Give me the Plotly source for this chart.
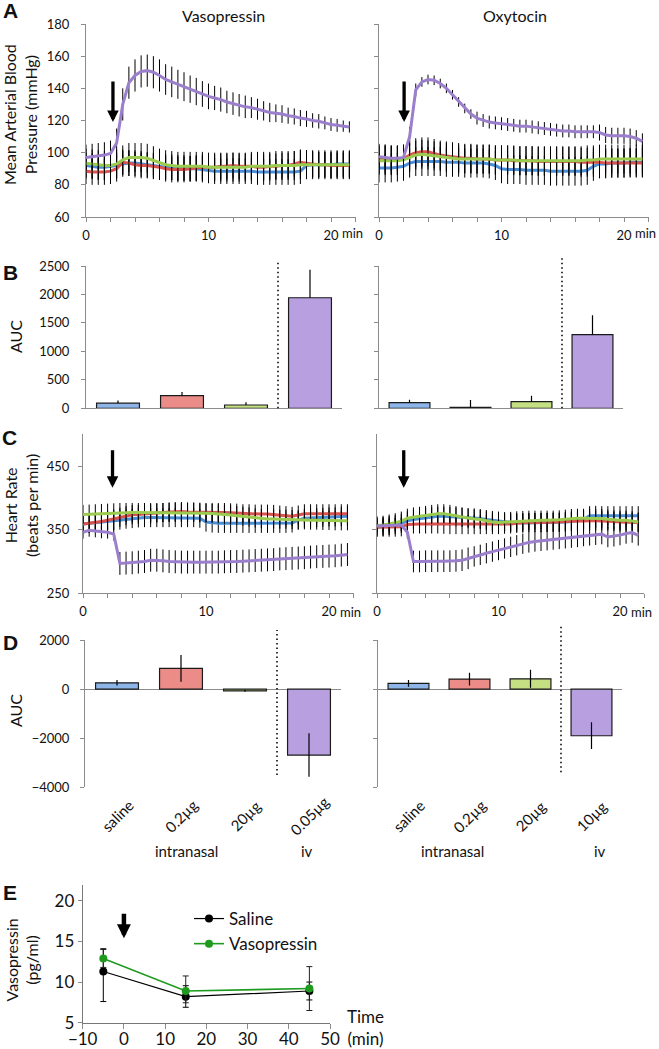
import plotly.graph_objects as go

W, H = 659, 1049

# ---------------- data ----------------
TIME = [0, 0.5, 1, 1.5, 2, 2.5, 3, 3.5, 4, 4.5, 5, 5.5, 6, 6.5, 7, 7.5, 8, 8.5, 9, 9.5,
        10, 10.5, 11, 11.5, 12, 12.5, 13, 13.5, 14, 14.5, 15, 15.5, 16, 16.5, 17, 17.5,
        18, 18.5, 19, 19.5, 20, 20.5, 21, 21.5]

# Panel A, vasopressin: mean arterial pressure (mmHg)
MAP_VP_SAL = [92, 91.5, 91, 91, 91.5, 92, 93, 93.5,
              93.5, 93, 92.5, 92, 91.5, 91, 91, 90.5,
              90.5, 90, 90, 89.5, 89, 88.5, 88.5, 88.5,
              88.5, 88.5, 88.5, 88.5, 88, 88, 88, 88,
              88, 88, 88, 88.5, 92, 92.5, 92.5, 92.5,
              92.5, 93, 93, 93]
MAP_VP_LOW = [88.5, 88, 88, 88, 88.5, 90, 94, 93.5,
              92.5, 92, 92, 91.5, 91, 90, 89.5, 89.5,
              89.5, 90, 90.5, 91, 91, 91, 91.5, 91.5,
              92, 91.5, 91.5, 91.5, 91, 91, 91.5, 91.5,
              92, 92, 93, 94, 93.5, 93, 92.5, 92.5,
              92, 92, 92, 92]
MAP_VP_HIGH = [93.5, 93, 92.5, 92, 92, 93, 95.5, 97,
               97, 97, 96.5, 95, 93.5, 92.5, 92, 91.5,
               91.5, 91.5, 91.5, 91.5, 91, 91, 91, 91,
               91, 91, 91, 91.5, 91.5, 91.5, 91.5, 92,
               92, 92, 92, 92.5, 92.5, 92.5, 92.5, 92.5,
               92.5, 92.5, 92.5, 92.5]
MAP_VP_IV = [97, 97.5, 98, 98.5, 99.5, 106, 130, 143.5,
             148, 150.5, 151, 150, 148, 145.5, 144, 142.5,
             141, 139.5, 138, 136.5, 135, 134, 133, 131.5,
             130.5, 129.5, 128.5, 128, 127, 126, 125, 124.5,
             124, 123, 122.5, 121.5, 121, 120, 119.5, 118.5,
             117.5, 117, 116.5, 116]
MAP_VP_IV_ERR = [8, 8, 8, 8, 8, 9, 10, 10,
                 10, 10, 10, 10, 10, 9.5, 9.5, 9,
                 9, 8.5, 8.5, 8, 8, 7.5, 7.5, 7,
                 7, 7, 7, 6.5, 6.5, 6, 6, 5.5,
                 5.5, 5, 5, 5, 5, 4.5, 4.5, 4,
                 4, 4, 3.5, 3.5]
MAP_VP_SD = [8, 8, 9]          # saline, 0.2 ug, 20 ug

# Panel A, oxytocin
MAP_OT_SAL = [90.5, 90.5, 90.5, 91, 91.5, 93.5, 94.5, 94.5,
              94.5, 94.5, 94.5, 94, 94, 94, 93.5, 93.5,
              93.5, 93.5, 93, 92, 90, 89.5, 89.5, 89.5,
              89, 89, 89, 89, 88.5, 88.5, 88.5, 88.5,
              88.5, 88.5, 89, 91.5, 93, 93, 93.5, 93.5,
              93.5, 94, 94, 94]
MAP_OT_LOW = [96, 96, 95.5, 95.5, 96, 98.5, 100, 100.5,
              100.5, 99.5, 98.5, 98, 97.5, 97, 96.5, 96.5,
              96, 96, 96, 95.5, 95.5, 95.5, 95, 95,
              95, 95, 94.5, 94.5, 94.5, 94.5, 94.5, 94.5,
              94.5, 94, 94, 94, 94, 93.5, 93.5, 93.5,
              93.5, 93.5, 93.5, 93.5]
MAP_OT_HIGH = [95, 95, 95, 95, 95.5, 97, 98.5, 99,
               98.5, 98, 97.5, 97, 96.5, 96, 96, 96,
               96, 96, 96, 95.5, 95.5, 95.5, 95.5, 95,
               95, 95, 95, 95, 95, 95, 95, 95,
               95, 95, 95.5, 95.5, 96, 96, 96, 96,
               96, 96, 96, 96]
MAP_OT_IV = [97.5, 97, 96.5, 96.5, 97, 110, 139, 144,
             145.5, 145, 143, 140, 136, 131.5, 127.5, 124,
             121.5, 120, 119, 118.5, 118, 117.5, 117, 116.5,
             116.5, 116, 115.5, 115, 114.5, 114, 113.5, 113.5,
             113, 113, 113, 113, 112.5, 111, 110.5, 110.5,
             110.5, 110, 109, 107]
MAP_OT_IV_ERR = [8, 8, 8, 8, 8, 6, 4, 3,
                 3, 3, 3, 3, 3, 3, 3, 3,
                 4, 4, 4, 4, 4, 4, 4, 4,
                 4, 4, 4, 4, 4, 4, 4, 4,
                 4, 4, 4, 4, 5, 5, 5, 5,
                 5, 5, 5, 5]
MAP_OT_SD = [9, 9, 9]

# Panel C, vasopressin: heart rate (beats per min)
HR_VP_SAL = [359, 360, 361.5, 362.5, 363.5, 364, 365, 366.5,
             367.5, 368.5, 369, 369, 369, 369, 369, 369,
             369, 369, 369, 368, 362, 360.5, 360, 360,
             360, 360, 360, 360, 360, 360, 360, 360,
             360, 360, 360.5, 365, 368, 368.5, 369, 369.5,
             370, 370, 370.5, 371]
HR_VP_LOW = [359, 360, 361, 363, 365, 367, 369.5, 372,
             373.5, 374, 374.5, 375, 376, 377, 378, 378.5,
             378.5, 378, 378, 377.5, 377, 377, 377, 377,
             376.5, 376, 375, 375, 374.5, 374.5, 374.5, 374,
             373, 372, 371, 373, 375, 375, 375, 375,
             375, 375, 375, 375]
HR_VP_HIGH = [374, 374.5, 375, 375.5, 376, 376.5, 377, 377,
              377, 377, 377, 377, 377, 377, 377, 377,
              377, 377, 377, 376.5, 376, 375.5, 375, 374,
              373, 372, 371, 370, 368.5, 367.5, 367, 367,
              366.5, 366.5, 366, 365.5, 365.5, 365, 365, 364.5,
              364.5, 364, 364, 364]
HR_VP_IV = [346, 349, 348, 346.5, 346, 343, 297, 297.5,
            298, 299, 300, 302, 302, 301, 300, 299.5,
            299, 299, 299, 299, 299, 299, 299, 299.5,
            300, 300, 300.5, 301, 301.5, 302, 302.5, 303,
            304, 304.5, 305, 305.5, 306, 307, 307.5, 308,
            308.5, 309, 310, 311]
HR_VP_IV_ERR = [10, 10, 10, 10, 10, 10, 18, 18,
                18, 18, 18, 18, 18, 18, 18, 18,
                18, 18, 18, 18, 18, 18, 18, 18,
                18, 18, 18, 18, 18, 18, 18, 18,
                18, 18, 18, 18, 18, 18, 18, 18,
                18, 18, 18, 18]
HR_VP_SD = [15, 15, 15]

# Panel C, oxytocin
HR_OT_SAL = [354, 355, 356.5, 358, 360, 364, 366, 367.5,
             369, 370, 371, 371, 370.5, 370, 369.5, 369,
             368.5, 367.5, 366, 364.5, 363.5, 362.5, 361.5, 361,
             360.5, 360.5, 361, 361, 361.5, 361.5, 361.5, 362,
             363, 364, 366, 372, 372.5, 372, 372, 372,
             372, 372, 372, 372]
HR_OT_LOW = [354, 354, 354, 354, 354.5, 358, 359, 359,
             359, 359, 359, 358.5, 358, 358, 358, 358,
             358, 358, 358, 358, 358, 358.5, 359, 360,
             361, 361.5, 361.5, 361.5, 361.5, 362, 362, 363,
             363.5, 364, 364, 364, 364, 364, 363.5, 363,
             362, 361.5, 361.5, 361.5]
HR_OT_HIGH = [356, 357, 359, 361, 363.5, 368, 370, 371,
              372.5, 374, 375, 375, 374, 372, 370, 368,
              367, 366, 364, 362, 361.5, 362, 363, 364,
              364.5, 365, 365, 365, 365, 365, 365.5, 366.5,
              367.5, 368, 368, 368, 368, 367.5, 366.5, 365.5,
              365, 365, 364, 362]
HR_OT_IV = [356, 356.5, 357, 358, 357.5, 346, 300, 300,
            300.5, 300.5, 300.5, 300.5, 300.5, 301, 302, 305,
            308, 310.5, 313, 315.5, 318, 320.5, 323, 325.5,
            328, 330, 331.5, 332.5, 333.5, 334.5, 335.5, 336.5,
            337.5, 338.5, 340, 341, 342, 343, 338.5, 339.5,
            341.5, 344, 345.5, 341]
HR_OT_IV_ERR = [10, 10, 10, 10, 10, 10, 17, 17,
                17, 17, 17, 17, 17, 17, 17, 17,
                16, 16, 16, 16, 16, 16, 16, 16,
                16, 16, 16, 16, 16, 16, 16, 16,
                16, 16, 16, 16, 16, 16, 16, 16,
                16, 16, 16, 16]
HR_OT_SD = [15, 15, 15]

# Panels B and D: AUC bars
CATS_VP = ["saline", "0.2µg", "20µg", "0.05µg"]
CATS_OT = ["saline", "0.2µg", "20µg", "10µg"]
GROUP_LABELS = ["intranasal", "iv"]
AUC_MAP_VP = [90, 222, 58, 1942]
AUC_MAP_VP_ERR = [45, 65, 48, 490]
AUC_MAP_OT = [99, 18, 116, 1296]
AUC_MAP_OT_ERR = [50, 128, 105, 340]
AUC_HR_VP = [257, 843, -69, -2688]
AUC_HR_VP_ERR = [115, 545, 40, 885]
AUC_HR_OT = [232, 407, 420, -1900]
AUC_HR_OT_ERR = [135, 260, 370, 545]

# Panel E: plasma vasopressin (pg/ml)
E_TIME = [-5, 15, 45]
E_SALINE = [11.3, 8.2, 8.9]
E_SALINE_UP = [2.8, 1.35, 1.1]
E_SALINE_DOWN = [3.7, 1.3, 1.1]
E_VP = [12.9, 8.9, 9.2]
E_VP_UP = [1.1, 1.85, 2.7]
E_VP_DOWN = [1.1, 1.45, 2.7]

# ---------------- style ----------------
BLUE, RED, GREEN, PURPLE = '#4A8FD6', '#D9534F', '#9ACB4E', '#9B7FCD'
BAR_FILLS = ['#8DB5E8', '#EC8C88', '#C4E083', '#B89FE0']
GRAY = '#8C8C8C'
FONT = 'Lato'
TICKFONT = dict(family=FONT, size=13, color='#111111')


def dom_x(a, b):
    return [a / W, b / W]


def dom_y(top, bottom):
    return [1 - bottom / H, 1 - top / H]


def px(p):
    return p / W


def py(p):
    return 1 - p / H


def ref(ax, n):
    return ax if n == 1 else f'{ax}{n}'


def key(ax, n):
    return f'{ax}axis' if n == 1 else f'{ax}axis{n}'


fig = go.Figure()


def add_timecourse(n, series):
    for vals, err, color in series:
        if isinstance(err, list):
            ey = dict(type='data', array=err)
        else:
            ey = dict(type='constant', value=err)
        ey.update(color='black', thickness=1, width=0)
        fig.add_trace(go.Scatter(x=TIME, y=vals, mode='lines',
                                 line=dict(color=color, width=3),
                                 error_y=ey, xaxis=ref('x', n), yaxis=ref('y', n),
                                 showlegend=False, hoverinfo='skip'))


def add_bars(n, cats, vals, errs, plus_only):
    ey = dict(type='data', array=errs, color='black', thickness=1.2, width=0)
    if plus_only:
        ey.update(symmetric=False, arrayminus=[0 for _ in errs])
    fig.add_trace(go.Bar(x=cats, y=vals, width=0.67,
                         marker=dict(color=BAR_FILLS, line=dict(color='#1a1a1a', width=1.2)),
                         error_y=ey, xaxis=ref('x', n), yaxis=ref('y', n),
                         showlegend=False, hoverinfo='skip'))


add_timecourse(1, [(MAP_VP_SAL, MAP_VP_SD[0], BLUE), (MAP_VP_LOW, MAP_VP_SD[1], RED),
                   (MAP_VP_HIGH, MAP_VP_SD[2], GREEN), (MAP_VP_IV, MAP_VP_IV_ERR, PURPLE)])
add_timecourse(2, [(MAP_OT_SAL, MAP_OT_SD[0], BLUE), (MAP_OT_LOW, MAP_OT_SD[1], RED),
                   (MAP_OT_HIGH, MAP_OT_SD[2], GREEN), (MAP_OT_IV, MAP_OT_IV_ERR, PURPLE)])
add_bars(3, CATS_VP, AUC_MAP_VP, AUC_MAP_VP_ERR, True)
add_bars(4, CATS_OT, AUC_MAP_OT, AUC_MAP_OT_ERR, True)
add_timecourse(5, [(HR_VP_SAL, HR_VP_SD[0], BLUE), (HR_VP_LOW, HR_VP_SD[1], RED),
                   (HR_VP_HIGH, HR_VP_SD[2], GREEN), (HR_VP_IV, HR_VP_IV_ERR, PURPLE)])
add_timecourse(6, [(HR_OT_SAL, HR_OT_SD[0], BLUE), (HR_OT_LOW, HR_OT_SD[1], RED),
                   (HR_OT_HIGH, HR_OT_SD[2], GREEN), (HR_OT_IV, HR_OT_IV_ERR, PURPLE)])
add_bars(7, CATS_VP, AUC_HR_VP, AUC_HR_VP_ERR, False)
add_bars(8, CATS_OT, AUC_HR_OT, AUC_HR_OT_ERR, False)

fig.add_trace(go.Scatter(x=E_TIME, y=E_SALINE, mode='lines+markers', name='Saline',
                         line=dict(color='black', width=1.2),
                         marker=dict(color='black', size=8),
                         error_y=dict(type='data', symmetric=False, array=E_SALINE_UP,
                                      arrayminus=E_SALINE_DOWN, color='black', thickness=1, width=3),
                         xaxis='x9', yaxis='y9', hoverinfo='skip'))
fig.add_trace(go.Scatter(x=E_TIME, y=E_VP, mode='lines+markers', name='Vasopressin',
                         line=dict(color='#1E9B1E', width=1.6),
                         marker=dict(color='#1E9B1E', size=8),
                         error_y=dict(type='data', symmetric=False, array=E_VP_UP,
                                      arrayminus=E_VP_DOWN, color='#222222', thickness=1, width=3),
                         xaxis='x9', yaxis='y9', hoverinfo='skip'))

# ---------------- axes ----------------
base = dict(showline=True, linecolor=GRAY, linewidth=1, ticks='outside', ticklen=4,
            tickcolor=GRAY, showgrid=False, zeroline=False, tickfont=TICKFONT,
            automargin=False)

lay = dict(width=W, height=H, margin=dict(l=0, r=0, t=0, b=0, pad=0, autoexpand=False),
           paper_bgcolor='white', plot_bgcolor='white',
           font=dict(family=FONT, size=13, color='#111111'))


def time_x(dom, n):
    d = dict(base, domain=dom, anchor=ref('y', n), range=[0, 22], tickmode='linear',
             tick0=0, dtick=10, ticklabelstandoff=2,
             minor=dict(dtick=2, ticks='outside', ticklen=4, tickcolor=GRAY, showgrid=False))
    return d


lay[key('x', 1)] = time_x(dom_x(86, 355.5), 1)
lay[key('y', 1)] = dict(base, domain=dom_y(24, 217), anchor='x', range=[60, 180], dtick=20,
                        ticklabelstandoff=9)
lay[key('x', 2)] = time_x(dom_x(379, 648.5), 2)
lay[key('y', 2)] = dict(base, domain=dom_y(24, 217), anchor='x2', range=[60, 180], dtick=20,
                        showticklabels=False)

lay[key('x', 3)] = dict(base, domain=dom_x(86, 342), anchor='y3', type='category',
                        range=[-0.5, 3.5], ticks='', showticklabels=False)
lay[key('y', 3)] = dict(base, domain=dom_y(266, 408.3), anchor='x3', range=[0, 2500],
                        dtick=500, ticklabelstandoff=9)
lay[key('x', 4)] = dict(base, domain=dom_x(379, 623), anchor='y4', type='category',
                        range=[-0.5, 3.5], ticks='', showticklabels=False)
lay[key('y', 4)] = dict(base, domain=dom_y(266, 408.3), anchor='x4', range=[0, 2500],
                        dtick=500, showticklabels=False)

lay[key('x', 5)] = time_x(dom_x(83, 353.6), 5)
lay[key('y', 5)] = dict(base, domain=dom_y(434.3, 593.3), anchor='x5', range=[250, 500],
                        tick0=250, dtick=100, ticklabelstandoff=6)
lay[key('x', 6)] = time_x(dom_x(377, 644.3), 6)
lay[key('y', 6)] = dict(base, domain=dom_y(434.3, 593.3), anchor='x6', range=[250, 500],
                        tick0=250, dtick=100, showticklabels=False)

lay[key('x', 7)] = dict(base, domain=dom_x(85, 341), anchor='y7', type='category',
                        range=[-0.5, 3.5], ticks='', showticklabels=False, showline=False)
lay[key('y', 7)] = dict(base, domain=dom_y(640, 787.3), anchor='x7', range=[-4000, 2000],
                        dtick=2000, zeroline=True, zerolinecolor=GRAY, zerolinewidth=1,
                        ticklabelstandoff=8)
lay[key('x', 8)] = dict(base, domain=dom_x(378, 622), anchor='y8', type='category',
                        range=[-0.5, 3.5], ticks='', showticklabels=False, showline=False)
lay[key('y', 8)] = dict(base, domain=dom_y(640, 787.3), anchor='x8', range=[-4000, 2000],
                        dtick=2000, zeroline=True, zerolinecolor=GRAY, zerolinewidth=1,
                        showticklabels=False)

EFONT = dict(family=FONT, size=17, color='#111111')
lay[key('x', 9)] = dict(base, domain=dom_x(82.7, 330), anchor='y9', range=[-10, 50],
                        dtick=10, tickfont=EFONT, ticklen=5, linecolor='#777777',
                        ticklabelstandoff=-4)
lay[key('y', 9)] = dict(base, domain=dom_y(884.5, 1022.7), anchor='x9', range=[5, 22],
                        tick0=5, dtick=5, tickfont=EFONT, linecolor='#777777')

lay['legend'] = dict(x=px(189), y=py(901), xanchor='left', yanchor='top',
                     font=EFONT, bgcolor='rgba(0,0,0,0)', itemwidth=30)
lay['showlegend'] = True

# ---------------- shapes (dotted separators) ----------------
shapes = []
for n, y0, y1 in [(3, 0, 1.028), (4, 0, 1.056), (7, 0.0835, 1.068), (8, 0.102, 1.09)]:
    shapes.append(dict(type='line', xref=ref('x', n), yref=f'{ref("y", n)} domain',
                       x0=2.5, x1=2.5, y0=y0, y1=y1,
                       line=dict(color='#222222', width=1.8, dash='1.5px,3px')))
lay['shapes'] = shapes

# ---------------- annotations ----------------
ann = []


def text(x, y, t, size=16, bold=False, angle=0, family=FONT, **kw):
    d = dict(x=x, y=y, xref='paper', yref='paper', text=f'<b>{t}</b>' if bold else t,
             showarrow=False, textangle=angle, xanchor='center', yanchor='middle',
             font=dict(family=family, size=size, color='#111111'))
    d.update(kw)
    ann.append(d)


# panel letters
for letter, (lx, ly) in zip('ABCDE', [(10, 11), (10, 272), (9, 437), (10, 642), (10, 892)]):
    text(px(lx), py(ly), letter, size=21, bold=True, family='Liberation Sans')

# titles
text(px(223), py(15), 'Vasopressin', size=16)
text(px(515), py(15), 'Oxytocin', size=16)

# y-axis titles
text(px(20.5), py(114.5), 'Mean Arterial Blood<br>Pressure (mmHg)', size=16, angle=-90)
text(px(15), py(337), 'AUC', size=16, angle=-90)
text(px(21), py(506), 'Heart Rate<br>(beats per min)', size=16, angle=-90)
text(px(15), py(711), 'AUC', size=16, angle=-90)
text(px(21.5), py(960), 'Vasopressin<br>(pg/ml)', size=16, angle=-90)

# "min" unit after the 20 tick
for n, ly in [(1, 233), (2, 233), (5, 612), (6, 612)]:
    ann.append(dict(x=20, y=py(ly), xref=ref('x', n), yref='paper', text='min',
                    showarrow=False, xanchor='left', yanchor='middle', xshift=9,
                    font=TICKFONT))

# E axis unit
text(px(365), py(1027.5), 'Time<br>(min)', size=17)

# category labels under D
for n, cats in [(7, CATS_VP), (8, CATS_OT)]:
    for c in cats:
        ann.append(dict(x=c, y=py(816), xref=ref('x', n), yref='paper', text=c,
                        showarrow=False, textangle=-45, xanchor='center', yanchor='middle',
                        font=dict(family=FONT, size=15, color='#111111')))
for (gx, gy), g in zip([(186.7, 851), (306.7, 851)], GROUP_LABELS):
    text(px(gx), py(gy), g, size=15)
for (gx, gy), g in zip([(452.5, 851), (600, 851)], GROUP_LABELS):
    text(px(gx), py(gy), g, size=15)

# arrows (time of administration)
for n, ax_t, tip, ay, w, s in [(1, 2.2, 119, -42, 3.3, 0.7), (2, 2.05, 119, -42, 3.3, 0.7),
                               (5, 2.4, 416, -39, 3.3, 0.7), (6, 2.2, 416, -39, 3.3, 0.7),
                               (9, 0, 15.4, -26, 4.5, 0.62)]:
    ann.append(dict(x=ax_t, y=tip, xref=ref('x', n), yref=ref('y', n), text='',
                    showarrow=True, arrowhead=2, arrowsize=s, arrowwidth=w,
                    arrowcolor='black', ax=0, ay=ay, standoff=0))

lay['annotations'] = ann
fig.update_layout(**lay)
fig.write_html('out.html', config={'displayModeBar': False},
               post_script="document.body.style.margin='0px';document.body.style.overflow='hidden';")
